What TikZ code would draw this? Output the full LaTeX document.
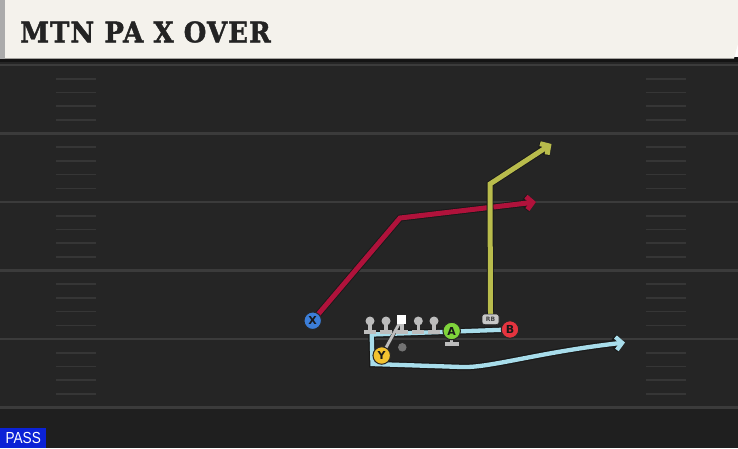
\documentclass[tikz,border=0pt]{standalone}
\usepackage{fontspec}
\setmainfont{DejaVu Sans}
\newfontfamily\titlefont{DejaVu Serif}[BoldFeatures={FakeBold=1.6}, LetterSpace=4]
\newfontfamily\passfont{Liberation Sans}
\usetikzlibrary{arrows.meta}
\definecolor{fieldbg}{HTML}{252525}
\definecolor{fieldlow}{HTML}{1F1F1F}
\definecolor{yardline}{HTML}{3B3B3B}
\definecolor{hashc}{HTML}{363636}
\definecolor{banner}{HTML}{F4F2EC}
\definecolor{bannerstrip}{HTML}{ABABAB}
\definecolor{titletext}{HTML}{232323}
\definecolor{xblue}{HTML}{3C7ED8}
\definecolor{yyellow}{HTML}{F2C230}
\definecolor{agreen}{HTML}{7FD43B}
\definecolor{bred}{HTML}{E5343F}
\definecolor{routered}{HTML}{B0123B}
\definecolor{routeyellow}{HTML}{B9BC4C}
\definecolor{routeblue}{HTML}{A8DDEB}
\definecolor{lmgrey}{HTML}{BDBDBD}
\definecolor{passblue}{HTML}{0B22D6}
\pgfdeclarelayer{field}
\pgfdeclarelayer{routes}
\pgfsetlayers{field,routes,main}
\tikzset{
  player/.style={circle, draw=black!85, line width=1pt, minimum size=17.5pt, inner sep=0pt,
    font=\bfseries\fontsize{11}{11}\selectfont, text=black!90},
  route/.style={line width=5pt, draw=#1, line cap=butt, line join=miter,
    -{Straight Barb[length=6pt,width=13pt]},
    preaction={draw=black!90, line width=6.8pt, -{Straight Barb[length=6pt,width=13pt]}}},
  yard/.style={draw=yardline, line width=2.2pt},
  hashmark/.style={draw=hashc, line width=1.6pt},
  lineman/.pic={
    \fill[lmgrey] (0,0) circle (4.5);
    \fill[lmgrey] (-1.8,0) rectangle (1.8,10);
    \fill[lmgrey] (-6,8.5) rectangle (6,12.5);
  }
}
\begin{document}
\begin{tikzpicture}[x=1pt,y=-1pt]
\useasboundingbox (0,0) rectangle (738,448);
\begin{pgfonlayer}{field}
  \fill[fieldbg] (0,58) rectangle (738,448);
  \fill[fieldlow] (0,408) rectangle (738,448);
  \fill[black!92] (0,57) rectangle (738,62);
  \foreach \yl in {65,133.5,202,270.5,339,407.5} {
    \draw[yard] (0,\yl) -- (738,\yl);
  }
  \foreach \yl in {65,133.5,202,270.5,339} {
    \foreach \k in {1,2,3,4} {
      \draw[hashmark] (56,\yl+\k*13.7) -- (96,\yl+\k*13.7);
      \draw[hashmark] (646,\yl+\k*13.7) -- (686,\yl+\k*13.7);
    }
  }
  \fill[banner] (0,0) -- (738,0) -- (738,44) -- (734,58.5) -- (0,58.5) -- cycle;
  \fill[bannerstrip] (0,0) rectangle (4.5,58.5);
\end{pgfonlayer}

\node[anchor=base west, inner sep=0pt, text=titletext, font=\titlefont\bfseries\fontsize{28.3}{30}\selectfont]
  (title) at (20,42.3) {\scalebox{0.92}[1]{MTN PA X OVER}};

% offensive line
\pic at (370,321) {lineman};
\pic at (386,321) {lineman};
\pic at (418.3,321) {lineman};
\pic at (434,321) {lineman};
\fill[lmgrey] (399.9,321) rectangle (403.5,331);
\fill[lmgrey] (395.7,329.5) rectangle (407.7,333.5);
\node[fill=white, minimum size=9pt, inner sep=0pt] (C) at (401.7,319) {};

\node[circle, fill=black!55, minimum size=8.5pt, inner sep=0pt] (QB) at (402.3,347.3) {};

% players
\node[player, fill=xblue] (X) at (312.7,320.7) {X};
\node[player, fill=yyellow] (Y) at (381.7,355.5) {Y};
\fill[lmgrey] (450,338) rectangle (453.4,343);
\fill[lmgrey] (444.5,342) rectangle (459,346);
\node[player, fill=agreen] (A) at (451.7,331) {A};
\node[player, fill=bred] (B) at (510,329.5) {B};
\node[draw=black!85, line width=0.6pt, fill=lmgrey!85!white, rounded corners=2.5pt, minimum width=17pt,
  minimum height=10.5pt, inner sep=0pt, font=\bfseries\fontsize{6}{6}\selectfont, text=black!75]
  (RB) at (490.5,319.3) {RB};

\node[fill=passblue, text=white, anchor=south west, minimum width=46pt, minimum height=20pt, inner sep=0pt,
  font=\passfont\fontsize{16}{16}\selectfont] (pass) at (0,448) {\raisebox{-1pt}{\scalebox{0.85}[1]{PASS}}};

% routes
\begin{pgfonlayer}{routes}
  \coordinate (redturn) at (400,218);
  \coordinate (redend) at (536,202);
  \draw[route=routered] (X.center) -- (redturn) -- (redend);
  \coordinate (yelturn) at (490,184);
  \coordinate (yelend) at (551.5,144);
  \draw[route=routeyellow] (RB.north) -- (yelturn) -- (yelend);
  \coordinate (b1) at (371.7,334.5);
  \coordinate (b2) at (372.5,364);
  \coordinate (b3) at (462,367);
  \coordinate (bend) at (625,342.5);
  \draw[route=routeblue, line width=4.3pt, preaction={line width=6pt}] (B.center) -- (b1) -- (b2) -- (b3)
     .. controls (490,368) and (540,352) .. (bend);
  \draw[draw=black!80, line width=4pt] (C.center) -- (Y.center);
  \draw[draw=lmgrey, line width=2.8pt] (C.center) -- (Y.center);
\end{pgfonlayer}
\end{tikzpicture}
\end{document}
